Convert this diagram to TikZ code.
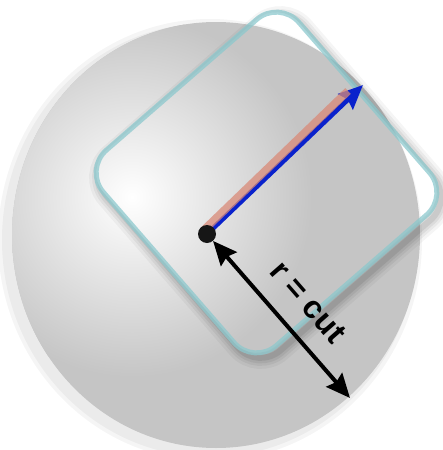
\documentclass[tikz,border=0pt]{standalone}
\usepackage{fontspec}
\setsansfont{Liberation Sans}
\usetikzlibrary{arrows.meta}
\definecolor{SphereGray}{HTML}{C5C5C5}
\definecolor{TileEdge}{RGB}{140,200,205}
\definecolor{ArrowBlue}{HTML}{0A22CC}
\definecolor{ArrowPink}{HTML}{D98A78}
\definecolor{DotInk}{HTML}{161616}

\begin{document}
\begin{tikzpicture}[
  x=1pt, y=-1pt,
  >={Stealth[length=24pt,width=21pt,inset=3pt]},
  tileshape/.style={rounded corners=30pt,
                    insert path={(-129.5,-129.5) rectangle (129.5,129.5)}},
  dot/.style={circle,fill=DotInk,minimum size=18pt,inner sep=0pt},
  bluearrow/.style={->,draw=ArrowBlue,line width=5pt},
  pinkbar/.style={draw=ArrowPink,opacity=0.75,line width=8pt},
  cutarrow/.style={<->,draw=black,line width=4pt},
  cutlabel/.style={font=\sffamily\bfseries\fontsize{32}{34}\selectfont,inner sep=0pt},
]
  \useasboundingbox (0,0) rectangle (442,450);

  % sphere with soft shadow
  \foreach \g in {8,4}
    \fill[black,opacity=0.04] (210,240) ellipse[x radius=204+\g,y radius=213+\g];
  \fill[SphereGray] (216,235) ellipse[x radius=204,y radius=213];
  \begin{scope}
    \clip (216,235) ellipse[x radius=204,y radius=213];
    \shade[inner color=white,outer color=SphereGray] (132,197) circle[radius=180];
  \end{scope}

  % tile, its shadow kept outside it
  \begin{scope}[shift={(266.5,182.5)},rotate=41]
    \begin{scope}[even odd rule,rounded corners=30pt]
      \clip (-500,-500) rectangle (500,500) (-129.5,-129.5) rectangle (129.5,129.5);
      \foreach \w/\o in {22/0.04,16/0.05,11/0.06,6/0.08}
        \draw[black,opacity=\o,line width=\w pt,shift={(-0.3,6.4)},tileshape];
    \end{scope}
    \draw[TileEdge,opacity=0.75,line width=5pt,tileshape];
  \end{scope}

  \coordinate (origin) at (207,234);
  \coordinate (bluetip) at (363,85);
  \coordinate (pinkstart) at (203.5,230.4);
  \coordinate (pinkend) at (348,91);
  \coordinate (cutend) at (350,398);

  \draw[bluearrow] (origin) -- (bluetip);
  \draw[pinkbar] (pinkstart) -- (pinkend);
  \node[dot] (centre) at (origin) {};
  \draw[cutarrow] (centre) -- (cutend)
    node[pos=0.52,sloped,above=19pt,cutlabel] {r = cut};
\end{tikzpicture}
\end{document}
